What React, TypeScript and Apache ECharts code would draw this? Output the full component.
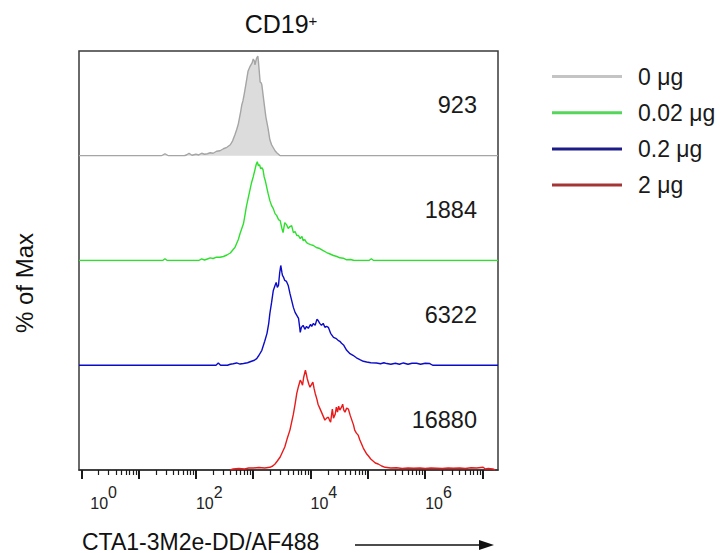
import React, { useEffect, useRef } from "react";
import * as echarts from "echarts";

const FONT = '"Liberation Sans", Arial, Helvetica, sans-serif';

const SAMPLE_NAMES = ["0 μg", "0.02 μg", "0.2 μg", "2 μg"];
const MFI_VALUES = ["923", "1884", "6322", "16880"];
const LINE_COLORS = ["#a5a5a5", "#2ee02e", "#0c0cc8", "#e81a1a"];
const LEGEND_COLORS = ["#c4c4c4", "#55d65a", "#1c1c88", "#a33535"];
const GRAY_FILL = "#dcdcdc";

// [log10(fluorescence), % of max]
const HIST_0UG: [number, number][] = [
  [-0.04, 0], [1.4, 0], [1.46, 2], [1.52, 0], [1.8, 0], [1.84, 1], [1.88, 2.5], [1.93, 0.5], [2.0, 1.5],
  [2.05, 0.8], [2.1, 2.5], [2.15, 1.5], [2.2, 2], [2.25, 3], [2.3, 2.5], [2.36, 4.5], [2.42, 5], [2.48, 7],
  [2.54, 8.5], [2.6, 11], [2.64, 15], [2.68, 21], [2.71, 26], [2.74, 32], [2.76, 38], [2.78, 44], [2.8, 51],
  [2.82, 55], [2.84, 61], [2.87, 71], [2.89, 78], [2.91, 85], [2.94, 89], [2.96, 91], [2.98, 93], [3.0, 97],
  [3.02, 95], [3.03, 91], [3.05, 96], [3.06, 98], [3.08, 100], [3.09, 95], [3.1, 88], [3.12, 74], [3.14, 73],
  [3.15, 71], [3.18, 57], [3.2, 48], [3.22, 39], [3.24, 33], [3.26, 27], [3.29, 16], [3.32, 11], [3.35, 8],
  [3.38, 5], [3.41, 3], [3.47, 0], [7.27, 0],
];

const HIST_002UG: [number, number][] = [
  [-0.04, 0], [1.42, 0], [1.46, 1.7], [1.5, 0], [2.05, 0], [2.1, 1.7], [2.15, 0.5], [2.2, 1.5], [2.25, 2.7],
  [2.3, 2], [2.36, 3.3], [2.42, 3.3], [2.48, 4], [2.54, 5.5], [2.6, 7.5], [2.65, 11], [2.68, 13], [2.71, 17],
  [2.74, 21], [2.77, 27], [2.8, 32], [2.83, 37], [2.86, 47], [2.88, 54], [2.91, 62], [2.94, 70], [2.97, 78],
  [3.0, 84], [3.03, 91], [3.05, 96], [3.07, 99], [3.09, 95], [3.11, 96], [3.13, 92], [3.15, 93], [3.17, 91],
  [3.19, 84], [3.21, 80], [3.24, 72], [3.26, 67], [3.29, 60], [3.32, 55], [3.35, 52], [3.38, 47], [3.41, 45],
  [3.44, 41], [3.47, 40], [3.5, 32], [3.52, 28], [3.55, 38], [3.58, 36], [3.61, 32], [3.64, 34], [3.67, 35],
  [3.7, 28], [3.73, 29], [3.76, 25], [3.79, 25], [3.82, 22], [3.85, 24], [3.87, 20], [3.9, 21], [3.93, 18],
  [3.96, 17], [4.0, 16], [4.05, 15], [4.1, 13], [4.16, 12], [4.22, 10], [4.28, 8], [4.34, 6.5], [4.4, 5],
  [4.46, 4], [4.51, 2.7], [4.57, 2.3], [4.63, 0.7], [4.7, 1], [4.76, 0], [5.02, 0], [5.06, 1.7], [5.1, 0],
  [7.27, 0],
];

const HIST_02UG: [number, number][] = [
  [-0.04, 0], [2.35, 0], [2.39, 2.3], [2.43, 0], [2.55, 0], [2.6, 1], [2.65, 1.5], [2.71, 2.3], [2.77, 1.2],
  [2.83, 1.7], [2.9, 2.5], [2.97, 4], [3.02, 5], [3.06, 6.7], [3.1, 10], [3.15, 15], [3.2, 24], [3.24, 32],
  [3.27, 42], [3.29, 52], [3.32, 63], [3.35, 75], [3.38, 80], [3.4, 83], [3.42, 78], [3.44, 80], [3.46, 92],
  [3.48, 100], [3.5, 93], [3.51, 90], [3.53, 88], [3.55, 85], [3.58, 84], [3.61, 80], [3.64, 72], [3.67, 65],
  [3.7, 58], [3.73, 53], [3.76, 50], [3.79, 47], [3.81, 38], [3.82, 33], [3.84, 38], [3.87, 40], [3.9, 36],
  [3.93, 39], [3.96, 37], [4.0, 41], [4.02, 39], [4.05, 42], [4.08, 40], [4.11, 46], [4.13, 45], [4.16, 42],
  [4.19, 40], [4.22, 42], [4.25, 38], [4.28, 39], [4.31, 38], [4.35, 32], [4.4, 28], [4.44, 27], [4.48, 25],
  [4.51, 24], [4.54, 22], [4.58, 20], [4.63, 15], [4.68, 12], [4.74, 10], [4.8, 7.5], [4.86, 5.7], [4.92, 4],
  [4.98, 3.3], [5.05, 2.5], [5.15, 2.3], [5.22, 1.5], [5.28, 2.5], [5.33, 1.7], [5.4, 1], [5.48, 2], [5.55, 1],
  [5.62, 2.3], [5.7, 1], [5.77, 2], [5.85, 2], [5.92, 1], [6.0, 2], [6.08, 1.7], [6.13, 0], [7.27, 0],
];

const HIST_2UG: [number, number][] = [
  [2.6, 0], [2.65, 1], [2.75, 1.5], [2.85, 1], [2.92, 2], [3.0, 2], [3.1, 2.5], [3.2, 2], [3.29, 2.7],
  [3.34, 4], [3.38, 6], [3.42, 9], [3.47, 13], [3.51, 18], [3.55, 23], [3.59, 31], [3.64, 40], [3.67, 48],
  [3.7, 56], [3.73, 66], [3.76, 77], [3.79, 84], [3.82, 90], [3.84, 88], [3.86, 85], [3.88, 93], [3.91, 100],
  [3.93, 95], [3.94, 92], [3.97, 86], [3.99, 83], [4.02, 86], [4.04, 88], [4.06, 82], [4.08, 77], [4.11, 71],
  [4.13, 66], [4.16, 62], [4.19, 58], [4.22, 54], [4.25, 50], [4.28, 52], [4.31, 53], [4.33, 50], [4.35, 48],
  [4.37, 57], [4.38, 61], [4.4, 52], [4.43, 56], [4.45, 63], [4.47, 58], [4.49, 64], [4.51, 60], [4.54, 63],
  [4.56, 66], [4.58, 60], [4.6, 58], [4.63, 62], [4.66, 61], [4.69, 55], [4.72, 50], [4.75, 45], [4.77, 40],
  [4.8, 37], [4.83, 35], [4.86, 30], [4.89, 26], [4.92, 22], [4.95, 19], [4.98, 16], [5.01, 14], [5.05, 11],
  [5.09, 9], [5.13, 7], [5.18, 6], [5.24, 4], [5.3, 2.7], [5.4, 2], [5.5, 2.2], [5.6, 1.5], [5.7, 2], [5.8, 1.8],
  [5.91, 2], [6.0, 1.5], [6.1, 2], [6.2, 1.8], [6.3, 1.5], [6.4, 2], [6.49, 1.7], [6.6, 2], [6.7, 1.5],
  [6.8, 2.2], [6.9, 2], [7.01, 2.7], [7.05, 1], [7.1, 1.5], [7.18, 1], [7.22, 0],
];

const HISTOGRAMS = [HIST_0UG, HIST_002UG, HIST_02UG, HIST_2UG];

// axis (log10 units)
const X_MIN = -0.04;
const X_MAX = 7.27;
const Y_MAX = 105;
const DECADE_EXPONENTS = [0, 1, 2, 3, 4, 5, 6, 7];
const MINOR_MULTIPLES = [2, 3, 4, 5, 6, 7, 8, 9];
const LABELED_EXPONENTS = [0, 2, 4, 6];

const CHART_TITLE_MAIN = "CD19";
const CHART_TITLE_SUP = "+";
const X_TITLE = "CTA1-3M2e-DD/AF488";
const Y_TITLE = "% of Max";

// layout
const PLOT_LEFT = 79;
const PLOT_TOP = 51;
const PLOT_W = 419;
const ROW_H = 104.75;

export default function App() {
  const ref = useRef<HTMLDivElement>(null);

  useEffect(() => {
    if (!ref.current) return;
    const chart = echarts.init(ref.current, undefined, { renderer: "svg" });

    const minorTicks: number[] = [];
    DECADE_EXPONENTS.forEach((d) => {
      MINOR_MULTIPLES.forEach((m) => {
        const v = d + Math.log10(m);
        if (v > X_MIN && v < X_MAX) minorTicks.push(v);
      });
    });

    const grids: any[] = HISTOGRAMS.map((_, i) => ({
      left: PLOT_LEFT,
      top: PLOT_TOP + i * ROW_H,
      width: PLOT_W,
      height: ROW_H,
      containLabel: false,
    }));
    grids.push({
      left: PLOT_LEFT,
      top: PLOT_TOP,
      width: PLOT_W,
      height: ROW_H * 4,
      show: true,
      borderColor: "#3a3a3a",
      borderWidth: 1.5,
      backgroundColor: "transparent",
    });

    const tickFont = { fontSize: 16, fontFamily: FONT, color: "#222", verticalAlign: "bottom", lineHeight: 16 };

    const xAxes: any[] = [0, 1, 2].map((i) => ({
      type: "value",
      gridIndex: i,
      min: X_MIN,
      max: X_MAX,
      show: false,
    }));
    xAxes.push({
      type: "value",
      gridIndex: 3,
      min: X_MIN,
      max: X_MAX,
      position: "bottom",
      axisLine: { show: true, lineStyle: { color: "#333", width: 1.5 } },
      axisTick: {
        show: true,
        customValues: DECADE_EXPONENTS,
        length: 9,
        inside: false,
        lineStyle: { color: "#1a1a1a", width: 2 },
      },
      axisLabel: {
        show: true,
        customValues: LABELED_EXPONENTS,
        align: "left",
        margin: 25,
        fontSize: 16,
        fontFamily: FONT,
        color: "#222",
        formatter: (v: number) => {
          const e = Math.round(v);
          return e === 0 ? `{f|10}{s|${e}}` : `{n|10}{s|${e}}`;
        },
        rich: {
          n: { ...tickFont },
          f: { ...tickFont, padding: [0, 0, 0, 9] },
          s: { ...tickFont, padding: [0, 0, 11, 0] },
        },
      },
      splitLine: { show: false },
    });
    xAxes.push({
      type: "value",
      gridIndex: 3,
      min: X_MIN,
      max: X_MAX,
      position: "bottom",
      axisLine: { show: false },
      axisTick: {
        show: true,
        customValues: minorTicks,
        length: 5,
        lineStyle: { color: "#1a1a1a", width: 1.2 },
      },
      axisLabel: { show: false },
      splitLine: { show: false },
    });
    xAxes.push({ type: "value", gridIndex: 4, min: 0, max: 1, show: false });

    const yAxes: any[] = HISTOGRAMS.map((_, i) => ({
      type: "value",
      gridIndex: i,
      min: 0,
      max: Y_MAX,
      show: false,
    }));
    yAxes.push({ type: "value", gridIndex: 4, min: 0, max: 1, show: false });

    const series: any[] = HISTOGRAMS.map((data, i) => ({
      type: "line",
      name: SAMPLE_NAMES[i],
      xAxisIndex: i,
      yAxisIndex: i,
      data,
      symbol: "none",
      showSymbol: false,
      silent: true,
      lineStyle: { color: LINE_COLORS[i], width: 1.4 },
      itemStyle: { color: LINE_COLORS[i] },
      areaStyle: i === 0 ? { color: GRAY_FILL, opacity: 1 } : undefined,
      z: 3,
    }));

    const graphics: any[] = [
      {
        type: "text",
        x: 281,
        y: 24,
        style: {
          text: `{a|${CHART_TITLE_MAIN}}{b|${CHART_TITLE_SUP}}`,
          align: "center",
          verticalAlign: "middle",
          rich: {
            a: { fontSize: 25, fontFamily: FONT, fill: "#111", verticalAlign: "bottom" },
            b: { fontSize: 15, fontFamily: FONT, fill: "#111", verticalAlign: "bottom", padding: [0, 0, 9, 0] },
          },
        },
      },
      {
        type: "text",
        x: 24,
        y: 283,
        rotation: Math.PI / 2,
        style: {
          text: Y_TITLE,
          fontSize: 24,
          fontFamily: FONT,
          fill: "#111",
          align: "center",
          verticalAlign: "middle",
        },
      },
      {
        type: "text",
        x: 82,
        y: 541.5,
        style: {
          text: X_TITLE,
          fontSize: 23,
          fontFamily: FONT,
          fill: "#111",
          align: "left",
          verticalAlign: "middle",
        },
      },
      {
        type: "line",
        shape: { x1: 355, y1: 545, x2: 482, y2: 545 },
        style: { stroke: "#111", lineWidth: 1.5 },
      },
      {
        type: "polygon",
        shape: { points: [[479, 540], [494, 545], [479, 550]] },
        style: { fill: "#111" },
      },
      ...MFI_VALUES.map((t, i) => ({
        type: "text",
        x: 477,
        y: PLOT_TOP + i * ROW_H + ROW_H / 2 + 2,
        style: {
          text: t,
          fontSize: 23.5,
          fontFamily: FONT,
          fill: "#1a1a1a",
          align: "right",
          verticalAlign: "middle",
        },
      })),
    ];

    chart.setOption({
      animation: false,
      backgroundColor: "#ffffff",
      textStyle: { fontFamily: FONT },
      grid: grids,
      xAxis: xAxes,
      yAxis: yAxes,
      series,
      legend: {
        orient: "vertical",
        left: 547,
        top: 60,
        itemWidth: 70,
        itemHeight: 3,
        itemGap: 13.2,
        icon: "rect",
        selectedMode: false,
        textStyle: { fontSize: 23, fontFamily: FONT, color: "#1a1a1a", padding: [0, 0, 0, 11] },
        data: SAMPLE_NAMES.map((n, i) => ({
          name: n,
          icon: "rect",
          itemStyle: { color: LEGEND_COLORS[i], borderWidth: 0 },
          lineStyle: { color: LEGEND_COLORS[i] },
        })),
      },
      graphic: graphics,
    });

    return () => {
      chart.dispose();
    };
  }, []);

  return (
    <div
      ref={ref}
      style={{ position: "fixed", left: 0, top: 0, width: 721, height: 553, background: "#fff" }}
    />
  );
}
